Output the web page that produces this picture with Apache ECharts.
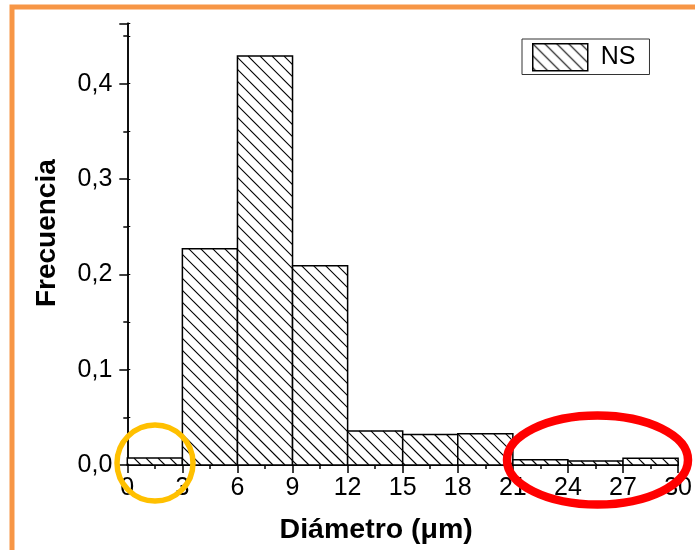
<!DOCTYPE html>
<html>
<head>
<meta charset="utf-8">
<script src="https://cdn.jsdelivr.net/npm/echarts@6/dist/echarts.min.js"></script>
<style>
html,body{margin:0;padding:0;background:#fff;}
#chart{width:695px;height:550px;}
</style>
</head>
<body>
<div id="chart"></div>
<script>
// Data (histogram of diameters)
var binStart = [0, 3, 6, 9, 12, 15, 18, 21, 24, 27];
var binEnd   = [3, 6, 9, 12, 15, 18, 21, 24, 27, 30];
var freq     = [0.0073, 0.227, 0.429, 0.209, 0.0358, 0.032, 0.0327, 0.0055, 0.0042, 0.007];
var seriesName = 'NS';
var xTitle = 'Diámetro (μm)';
var yTitle = 'Frecuencia';

var HATCH = 12; // hatch period in px (style)

// hatch pattern for legend swatch
function makeHatch() {
  var s = HATCH;
  var c = document.createElement('canvas');
  c.width = s; c.height = s;
  var g = c.getContext('2d');
  g.fillStyle = '#fff';
  g.fillRect(0, 0, s, s);
  g.strokeStyle = '#000';
  g.lineWidth = 1.1;
  g.beginPath();
  g.moveTo(-2, -2); g.lineTo(s + 2, s + 2);
  g.moveTo(s - 2, -2); g.lineTo(s + 2, 2);
  g.moveTo(-2, s - 2); g.lineTo(2, s + 2);
  g.stroke();
  return c;
}
var hatch = { image: makeHatch(), repeat: 'repeat' };

var data = binStart.map(function (s, i) { return [s, binEnd[i], freq[i]]; });

var chart = echarts.init(document.getElementById('chart'));
var fontFam = '"Liberation Sans", Arial, sans-serif';

function yFmt(v) {
  var k = Math.round(v * 10);
  if (Math.abs(v * 10 - k) > 1e-6) return '';
  return (k / 10).toFixed(1).replace('.', ',');
}

function hatchLines(x0, y0, x1, y1) {
  // lines y = x + c  (top-left to bottom-right), c multiple of HATCH
  var out = [];
  var cMin = y0 - x1, cMax = y1 - x0;
  var k0 = Math.ceil(cMin / HATCH), k1 = Math.floor(cMax / HATCH);
  for (var k = k0; k <= k1; k++) {
    var c = k * HATCH;
    var xa = Math.max(x0, y0 - c), xb = Math.min(x1, y1 - c);
    if (xb - xa > 0.3) {
      out.push({
        type: 'line', silent: true,
        shape: { x1: xa, y1: xa + c, x2: xb, y2: xb + c },
        style: { stroke: '#000', lineWidth: 1.1 }
      });
    }
  }
  return out;
}

var option = {
  backgroundColor: '#fff',
  animation: false,
  grid: { left: 127.3, right: 14.7, top: 23.3, bottom: 84 },
  legend: {
    left: 522, top: 39,
    orient: 'horizontal',
    borderColor: '#333', borderWidth: 1,
    padding: [4, 14, 3, 10],
    itemWidth: 55, itemHeight: 27,
    icon: 'rect',
    textStyle: { fontFamily: fontFam, fontSize: 25, color: '#000', padding: [0, 0, 0, 8] },
    data: [{ name: seriesName, itemStyle: { color: hatch, borderColor: '#000', borderWidth: 1.5 } }]
  },
  xAxis: [{
    type: 'value', min: 0, max: 30, interval: 3, position: 'bottom',
    name: xTitle, nameLocation: 'middle', nameGap: 51,
    nameTextStyle: { fontFamily: fontFam, fontSize: 28.5, fontWeight: 'bold', color: '#000', padding: [0, 53, 0, 0] },
    axisLine: { lineStyle: { color: '#000', width: 1.5 } },
    axisTick: { show: true, length: 8, lineStyle: { color: '#000', width: 1.5 } },
    minorTick: { show: true, splitNumber: 2, length: 4, lineStyle: { color: '#000', width: 1.5 } },
    axisLabel: { fontFamily: fontFam, fontSize: 25, color: '#000', margin: 11 },
    splitLine: { show: false }
  }, {
    type: 'value', min: 0, max: 30, interval: 3, position: 'top',
    axisLine: { lineStyle: { color: '#000', width: 1.5 } },
    axisTick: { show: true, length: 3, lineStyle: { color: '#000', width: 1 } },
    minorTick: { show: true, splitNumber: 2, length: 3, lineStyle: { color: '#000', width: 1 } },
    axisLabel: { show: false },
    splitLine: { show: false }
  }],
  yAxis: [{
    type: 'value', min: 0, max: 0.4634, interval: 0.1, position: 'left',
    name: yTitle, nameLocation: 'middle', nameGap: 66, nameRotate: 90,
    nameTextStyle: { fontFamily: fontFam, fontSize: 28, fontWeight: 'bold', color: '#000', padding: [0, 0, 0, 22] },
    axisLine: { show: true, lineStyle: { color: '#000', width: 1.5 } },
    axisTick: { show: true, length: 8, lineStyle: { color: '#000', width: 1.5 } },
    minorTick: { show: true, splitNumber: 2, length: 4, lineStyle: { color: '#000', width: 1.5 } },
    axisLabel: { fontFamily: fontFam, fontSize: 25, color: '#000', margin: 15, formatter: yFmt, showMaxLabel: false },
    splitLine: { show: false }
  }, {
    type: 'value', min: 0, max: 0.4634, interval: 0.1, position: 'right',
    axisLine: { show: true, lineStyle: { color: '#000', width: 1.5 } },
    axisTick: { show: true, length: 3, lineStyle: { color: '#000', width: 1 } },
    minorTick: { show: true, splitNumber: 2, length: 3, lineStyle: { color: '#000', width: 1 } },
    axisLabel: { show: false },
    splitLine: { show: false }
  }],
  series: [{
    name: seriesName,
    type: 'custom',
    xAxisIndex: 0, yAxisIndex: 0,
    itemStyle: { color: hatch, borderColor: '#000', borderWidth: 1.5 },
    encode: { x: [0, 1], y: 2 },
    data: data,
    renderItem: function (params, api) {
      var p0 = api.coord([api.value(0), api.value(2)]);
      var p1 = api.coord([api.value(1), 0]);
      var children = [{
        type: 'rect',
        shape: { x: p0[0], y: p0[1], width: p1[0] - p0[0], height: p1[1] - p0[1] },
        style: { fill: '#fff', stroke: null }
      }];
      children = children.concat(hatchLines(p0[0], p0[1], p1[0], p1[1]));
      children.push({
        type: 'rect',
        shape: { x: p0[0], y: p0[1], width: p1[0] - p0[0], height: p1[1] - p0[1] },
        style: { fill: 'none', stroke: '#000', lineWidth: 1.5 }
      });
      return { type: 'group', children: children };
    }
  }],
  graphic: [
    { type: 'rect', z: 100, silent: true, shape: { x: 12, y: 7, width: 720, height: 620 },
      style: { fill: 'none', stroke: '#F79646', lineWidth: 5 } },
    { type: 'circle', z: 100, silent: true, shape: { cx: 155, cy: 463, r: 38 },
      style: { fill: 'none', stroke: '#FFC000', lineWidth: 5.5 } },
    { type: 'ellipse', z: 100, silent: true, shape: { cx: 597.5, cy: 460, rx: 90.5, ry: 44.5 },
      style: { fill: 'none', stroke: '#FF0000', lineWidth: 8.5 } }
  ]
};
chart.setOption(option);
</script>
</body>
</html>
